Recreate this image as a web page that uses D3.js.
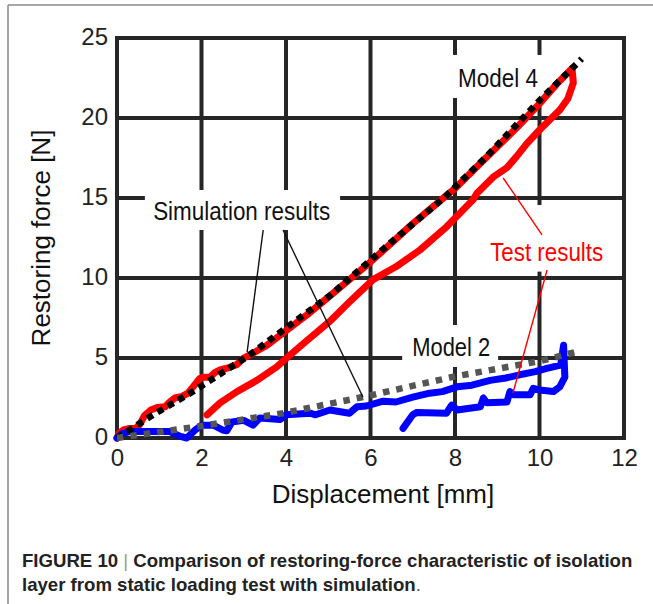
<!DOCTYPE html>
<html>
<head>
<meta charset="utf-8">
<script src="https://cdn.jsdelivr.net/npm/d3@7"></script>
<style>
  html, body { margin: 0; padding: 0; background: #fff; }
  svg { display: block; }
  text { font-family: "Liberation Sans", Arial, sans-serif; }
</style>
</head>
<body>
<svg id="chart" width="653" height="604"></svg>
<script>
// ---------- data ----------
const xTicks = [0, 2, 4, 6, 8, 10, 12];
const yTicks = [0, 5, 10, 15, 20, 25];

// Simulation, Model 4 (black dotted)
const simModel4 = [[0,0],[0.85,1.44],[1.73,2.8],[3.07,5.06],[5.04,8.9],[6.34,11.9],[7.76,15.06],[8.75,17.6],[10.0,21.1],[11.0,23.7]];
// Simulation, Model 2 (grey dotted)
const simModel2 = [[0,0],[2,0.75],[3.93,1.55],[5.82,2.56],[8.0,3.85],[10.0,4.8],[10.9,5.4]];
// Test results, Model 4 (red)
const testModel4 = [[0,0],[0.05,0.3],[0.15,0.5],[0.3,0.6],[0.45,0.6],[0.55,0.9],[0.65,1.4],[0.8,1.75],[0.95,1.9],[1.14,1.95],[1.25,2.25],[1.37,2.5],[1.54,2.6],[1.68,2.8],[1.8,3.2],[1.95,3.7],[2.04,3.8],[2.2,3.8],[2.32,4.1],[2.44,4.25],[2.65,4.4],[2.84,4.6],[3.0,5.0],[3.15,5.2],[3.35,5.5],[3.55,5.8],[4.0,6.7],[4.5,7.7],[5.0,8.8],[5.5,9.9],[6.0,11.0],[6.5,12.2],[7.0,13.4],[7.5,14.5],[8.0,15.6],[8.5,16.9],[9.0,18.2],[9.5,19.5],[10.0,20.9],[10.4,22.1],[10.77,23.1],[10.8,22.2],[10.67,21.2],[10.48,20.5],[10.25,19.9],[10.0,19.25],[9.7,18.4],[9.46,17.6],[9.23,16.9],[8.9,16.3],[8.52,15.3],[8.43,14.9],[7.8,13.2],[7.17,11.75],[6.6,10.7],[6.06,9.9],[5.5,8.5],[5.04,7.3],[4.5,6.1],[4.1,5.2],[3.78,4.45],[3.31,3.6],[2.84,2.9],[2.44,2.2],[2.13,1.45]];
// Test results, Model 2 (blue)
const testModel2 = [[0,0],[0.1,0.25],[0.3,0.4],[0.85,0.4],[1.25,0.4],[1.5,0.1],[1.65,0],[1.85,0.5],[2.0,0.8],[2.28,0.8],[2.5,0.5],[2.6,0.45],[2.72,1.0],[3.0,1.1],[3.22,0.8],[3.38,1.25],[3.86,1.15],[4.0,1.45],[4.57,1.55],[4.7,1.45],[5.04,1.75],[5.5,1.55],[5.68,1.95],[5.9,2.0],[6.3,2.3],[6.6,2.25],[7.0,2.55],[7.4,2.8],[7.7,2.9],[8.05,3.2],[8.4,3.3],[8.83,3.6],[9.2,3.75],[9.53,3.95],[9.9,4.15],[10.17,4.35],[10.5,4.55],[10.57,5.8],[10.6,3.8],[10.48,3.2],[10.33,2.9],[10.0,3.0],[9.85,3.1],[9.78,2.7],[9.38,2.7],[9.3,2.9],[9.23,2.25],[8.75,2.2],[8.67,2.5],[8.6,1.95],[8.05,1.75],[7.92,2.05],[7.8,1.55],[7.1,1.6],[7.0,1.45],[6.77,0.6]];

// annotation labels: text, x, baseline y (data units), width in px
const labelText = ["Simulation results", "Model 4", "Model 2", "Test results"];
const labelX = [2.95, 9.02, 7.91, 10.17];
const labelY = [13.625, 21.94, 5.125, 11.06];
const labelWidth = [177, 80, 78, 113];
const labelColor = ["#111", "#111", "#111", "#f00"];
// white boxes behind labels [x0, x1, y0, y1] in data units
const labelBoxes = [[0.66, 5.28, 13.0, 15.5], [7.8, 10.2, 21.25, 23.94], [6.75, 9.02, 4.44, 7.06], [8.64, 11.62, 10.4, 14.56]];
// leader lines [x1, y1, x2, y2] in data units
const leaderBlack = [[3.46, 13.0, 3.08, 5.375], [3.93, 13.0, 5.82, 2.56]];
const leaderRed = [[10.06, 12.7, 9.14, 16.25], [10.18, 10.5, 9.37, 2.8]];

const xLabel = "Displacement [mm]";
const yLabel = "Restoring force [N]";
const captionBold = "FIGURE 10";
const captionRest1 = "Comparison of restoring-force characteristic of isolation";
const captionRest2 = "layer from static loading test with simulation";

// ---------- layout ----------
const svg = d3.select("#chart");
const W = 653, H = 604;
const x = d3.scaleLinear().domain([0, 12]).range([117, 624]);
const y = d3.scaleLinear().domain([0, 25]).range([438, 38]);
const gridColor = "#262626";

svg.append("rect").attr("width", W).attr("height", H).attr("fill", "#fff");
// outer frame lines
svg.append("line").attr("x1", 8).attr("x2", W).attr("y1", 5).attr("y2", 5).attr("stroke", "#888").attr("stroke-width", 1.5);
svg.append("line").attr("x1", 8).attr("x2", 8).attr("y1", 5).attr("y2", H).attr("stroke", "#888").attr("stroke-width", 1.5);

// grid
const grid = svg.append("g");
grid.selectAll(".vg").data(xTicks.slice(1, -1)).join("line")
  .attr("x1", d => x(d)).attr("x2", d => x(d)).attr("y1", y(0)).attr("y2", y(25))
  .attr("stroke", gridColor).attr("stroke-width", 4);
grid.selectAll(".hg").data(yTicks.slice(1, -1)).join("line")
  .attr("x1", x(0)).attr("x2", x(12)).attr("y1", d => y(d)).attr("y2", d => y(d))
  .attr("stroke", gridColor).attr("stroke-width", 4);

// white boxes behind labels
svg.append("g").selectAll("rect").data(labelBoxes).join("rect")
  .attr("x", d => x(d[0])).attr("width", d => x(d[1]) - x(d[0]))
  .attr("y", d => y(d[3])).attr("height", d => y(d[2]) - y(d[3]))
  .attr("fill", "#fff");

// frame
svg.append("rect").attr("x", x(0)).attr("y", y(25)).attr("width", x(12) - x(0)).attr("height", y(0) - y(25))
  .attr("fill", "none").attr("stroke", gridColor).attr("stroke-width", 4);

// axes (labels only)
const ax = svg.append("g").attr("transform", `translate(0,${y(0)})`)
  .call(d3.axisBottom(x).tickValues(xTicks).tickSize(0).tickPadding(11).tickFormat(d3.format("d")));
const ay = svg.append("g").attr("transform", `translate(${x(0)},0)`)
  .call(d3.axisLeft(y).tickValues(yTicks).tickSize(0).tickPadding(9).tickFormat(d3.format("d")));
[ax, ay].forEach(g => {
  g.select(".domain").remove();
  g.selectAll("text").attr("font-size", 24).attr("fill", "#222")
    .style("font-family", "'Liberation Sans', Arial, sans-serif");
});
ay.selectAll("text").attr("dy", "0.28em");

// curves
const line = d3.line().x(d => x(d[0])).y(d => y(d[1]));

svg.append("path").attr("d", line(testModel4)).attr("fill", "none").attr("stroke", "#ff0000")
  .attr("stroke-width", 7).attr("stroke-linejoin", "round").attr("stroke-linecap", "round");
svg.append("path").attr("d", line(testModel2)).attr("fill", "none").attr("stroke", "#0000ff")
  .attr("stroke-width", 7).attr("stroke-linejoin", "round").attr("stroke-linecap", "round");
svg.append("path").attr("d", line(simModel4)).attr("fill", "none").attr("stroke", "#000")
  .attr("stroke-width", 6.5).attr("stroke-dasharray", "6.5,5.5");
svg.append("path").attr("d", line(simModel2)).attr("fill", "none").attr("stroke", "#555")
  .attr("stroke-width", 6.5).attr("stroke-dasharray", "6.5,7");

// leader lines
svg.append("g").selectAll("line").data(leaderBlack).join("line")
  .attr("x1", d => x(d[0])).attr("y1", d => y(d[1])).attr("x2", d => x(d[2])).attr("y2", d => y(d[3]))
  .attr("stroke", "#111").attr("stroke-width", 1.4);
svg.append("g").selectAll("line").data(leaderRed).join("line")
  .attr("x1", d => x(d[0])).attr("y1", d => y(d[1])).attr("x2", d => x(d[2])).attr("y2", d => y(d[3]))
  .attr("stroke", "#f00").attr("stroke-width", 1.4);

// labels
svg.append("g").selectAll("text").data(labelText).join("text")
  .attr("x", (d, i) => x(labelX[i]) - labelWidth[i] / 2)
  .attr("y", (d, i) => y(labelY[i]))
  .attr("textLength", (d, i) => labelWidth[i]).attr("lengthAdjust", "spacingAndGlyphs")
  .attr("font-size", 25).attr("fill", (d, i) => labelColor[i]).text(d => d);

// axis titles
svg.append("text").attr("x", 383).attr("y", 503).attr("text-anchor", "middle")
  .attr("font-size", 26).attr("fill", "#111").text(xLabel);
svg.append("text").attr("transform", "translate(50,238) rotate(-90)").attr("text-anchor", "middle")
  .attr("font-size", 26).attr("fill", "#111").text(yLabel);

// caption
const c1 = svg.append("text").attr("x", 22).attr("y", 567).attr("font-size", 18.6).attr("fill", "#222")
  .attr("font-weight", "bold");
c1.append("tspan").text(captionBold + " ");
c1.append("tspan").attr("font-weight", "normal").attr("fill", "#999").text("|");
c1.append("tspan").text(" " + captionRest1);
const c2 = svg.append("text").attr("x", 22).attr("y", 591).attr("font-size", 18.6).attr("fill", "#222")
  .attr("font-weight", "bold");
c2.append("tspan").text(captionRest2);
c2.append("tspan").attr("font-weight", "normal").attr("fill", "#555").text(".");
</script>
</body>
</html>
